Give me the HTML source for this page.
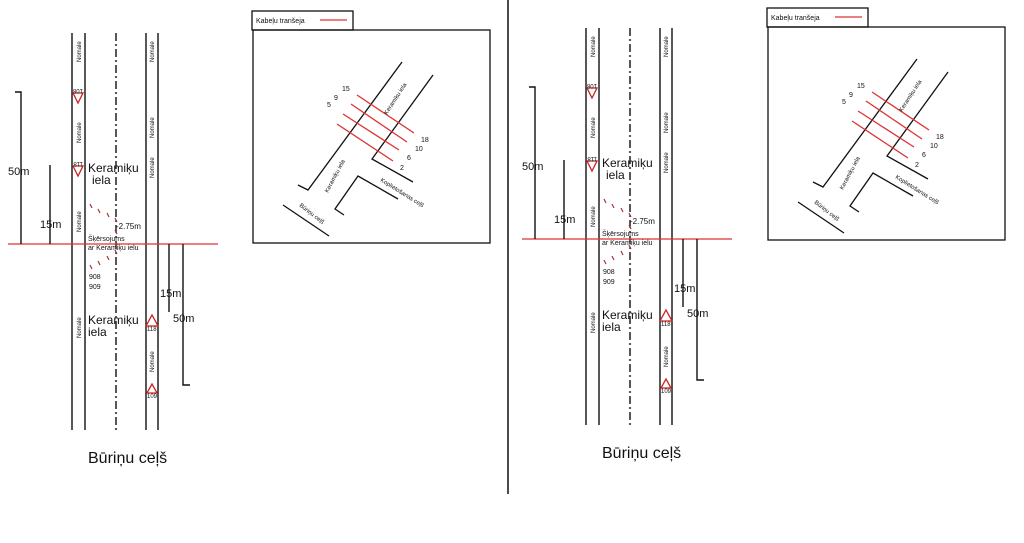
<!DOCTYPE html>
<html><head><meta charset="utf-8"><style>
html,body{margin:0;padding:0;background:#fff;}
svg{display:block;font-family:"Liberation Sans",sans-serif;}
</style></head><body>
<svg width="1024" height="543" viewBox="0 0 1024 543" xmlns="http://www.w3.org/2000/svg">
<defs>
<g id="plan" stroke="#111" stroke-width="1.4" fill="none">
  <line x1="72" y1="33" x2="72" y2="430"/>
  <line x1="85" y1="33" x2="85" y2="430"/>
  <line x1="116" y1="33" x2="116" y2="430" stroke-dasharray="8,3,2,3"/>
  <line x1="146" y1="33" x2="146" y2="430"/>
  <line x1="158" y1="33" x2="158" y2="430"/>
  <line x1="8" y1="244" x2="218" y2="244" stroke="#d33" stroke-width="1.2"/>
  <polyline points="15,92 21,92 21,244"/>
  <line x1="50" y1="165" x2="50" y2="244"/>
  <line x1="169" y1="244" x2="169" y2="312"/>
  <polyline points="183,244 183,385 190,385"/>
  <g fill="#fff" stroke="#c22" stroke-width="1.3">
    <polygon points="73,93 83,93 78,103"/>
    <polygon points="73,166 83,166 78,176"/>
    <polygon points="146,326 158,326 152,315"/>
    <polygon points="147,393 157,393 152,384"/>
  </g>
  <g stroke="#a33" stroke-width="1.2">
    <path d="M90,204 l2,4 M98,209 l2,4 M107,213 l2,4 M115,218 l2,4 M115,230 l2,4 M115,250 l2,4 M107,256 l2,4 M98,261 l2,4 M90,265 l2,4"/>
  </g>
  <g fill="#111" stroke="none">
    <text x="8" y="175" font-size="11">50m</text>
    <text x="40" y="228" font-size="11">15m</text>
    <text x="160" y="297" font-size="11">15m</text>
    <text x="173" y="322" font-size="11">50m</text>
    <text x="88" y="172" font-size="12">Keramiķu</text>
    <text x="92" y="184" font-size="12">iela</text>
    <text x="88" y="324" font-size="12">Keramiķu</text>
    <text x="88" y="336" font-size="12">iela</text>
    <text x="116" y="229" font-size="8">-2.75m</text>
    <text x="88" y="241" font-size="7">Šķērsojums</text>
    <text x="88" y="250" font-size="7">ar Keramiķu ielu</text>
    <text x="89" y="279" font-size="7">908</text>
    <text x="89" y="289" font-size="7">909</text>
    <text x="147" y="331" font-size="6">118</text>
    <text x="147" y="398" font-size="6">109</text>
    <text transform="translate(83,89) rotate(180)" font-size="6">108</text>
    <text transform="translate(83,162) rotate(180)" font-size="6">118</text>
    <g font-size="6">
      <text transform="translate(81,62) rotate(-90)">Nomale</text>
      <text transform="translate(81,143) rotate(-90)">Nomale</text>
      <text transform="translate(81,232) rotate(-90)">Nomale</text>
      <text transform="translate(81,338) rotate(-90)">Nomale</text>
      <text transform="translate(154,62) rotate(-90)">Nomale</text>
      <text transform="translate(154,138) rotate(-90)">Nomale</text>
      <text transform="translate(154,178) rotate(-90)">Nomale</text>
      <text transform="translate(154,372) rotate(-90)">Nomale</text>
    </g>
    <text x="88" y="463" font-size="16">Būriņu ceļš</text>
  </g>
</g>
<g id="box" stroke="#111" stroke-width="1.3" fill="none">
  <rect x="252" y="11" width="101" height="19"/>
  <rect x="253" y="30" width="237" height="213"/>
  <line x1="320" y1="20" x2="347" y2="20" stroke="#d33"/>
  <polyline points="402,62 308,190 298,185"/>
  <polyline points="433,75 372,159 413,182"/>
  <polyline points="398,199 358,176 335,209 344,215"/>
  <line x1="283" y1="205" x2="329" y2="236"/>
  <g stroke="#d33">
    <line x1="357" y1="95" x2="414" y2="133"/>
    <line x1="351" y1="104" x2="407" y2="142"/>
    <line x1="343" y1="114" x2="399" y2="150"/>
    <line x1="337" y1="124" x2="393" y2="161"/>
  </g>
  <g fill="#111" stroke="none" font-size="7">
    <text x="256" y="23">Kabeļu tranšeja</text>
    <text x="342" y="91">15</text>
    <text x="334" y="100">9</text>
    <text x="327" y="107">5</text>
    <text x="421" y="142">18</text>
    <text x="415" y="151">10</text>
    <text x="407" y="160">6</text>
    <text x="400" y="170">2</text>
    <text transform="translate(387,115) rotate(-57)" font-size="6">Keramiķu iela</text>
    <text transform="translate(328,193) rotate(-62)" font-size="6">Keramiķu iela</text>
    <text transform="translate(380,181) rotate(32)" font-size="6">Koplietošanas ceļš</text>
    <text transform="translate(299,206) rotate(38)" font-size="6">Būriņu ceļš</text>
  </g>
</g>
</defs>
<use href="#plan"/>
<use href="#box"/>
<g transform="translate(514,-5)"><use href="#plan"/></g>
<g transform="translate(515,-3)"><use href="#box"/></g>
<line x1="508" y1="0" x2="508" y2="494" stroke="#111" stroke-width="1.5"/>
</svg>
</body></html>
